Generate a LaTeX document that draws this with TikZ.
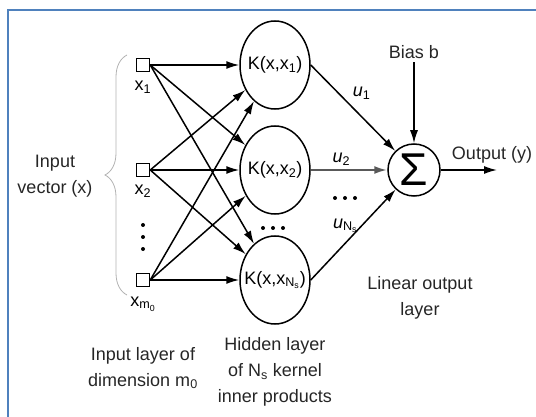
\documentclass[tikz,border=0pt]{standalone}
\usepackage{fontspec}
\setmainfont{Liberation Sans}
\usetikzlibrary{positioning,arrows.meta,shapes.geometric,decorations.pathreplacing}
\definecolor{framecol}{RGB}{79,129,189}

\tikzset{
  inp/.style={draw,rectangle,minimum size=13pt,inner sep=0pt,line width=1.5pt},
  kern/.style={draw,ellipse,minimum width=70pt,minimum height=88pt,inner sep=0pt,line width=1.5pt},
  sumnode/.style={draw,circle,minimum size=52pt,inner sep=0pt,line width=1.5pt},
  lbl/.style={align=center,text=black!85,font=\fontsize{18}{26}\selectfont},
  wire/.style={-{Latex[length=13pt,width=8pt]},line width=1.5pt},
}

\begin{document}
\begin{tikzpicture}[x=1pt,y=-1pt,on grid,font=\fontsize{18}{24}\selectfont]
    \useasboundingbox (0,0) rectangle (536,417);
    \draw[framecol,line width=2pt] (8,417) -- (8,10) -- (536,10);

    % input layer
    \node[inp] (x1) at (143,65) {};
    \node[inp] (x2) [below=105pt of x1] {};
    \node[inp] (xm) [below=110pt of x2] {};
    \node (lx1) [below=22pt of x1] {x\textsubscript{1}};
    \node (lx2) [below=21pt of x2] {x\textsubscript{2}};
    \node (lxm) [below=24pt of xm] {x\textsubscript{m\textsubscript{0}}};
    \foreach \k in {225,237,249} \fill (143,\k) circle (2pt);

    % hidden layer
    \node[kern] (h1) [right=132pt of x1] {\makebox[0pt]{K(x,x\textsubscript{1})}};
    \node[kern] (h2) [right=132pt of x2] {\makebox[0pt]{K(x,x\textsubscript{2})}};
    \node[kern] (h3) [right=132pt of xm] {\makebox[0pt]{K(x,x\textsubscript{N\textsubscript{s}})}};
    \foreach \k in {263,273,283} \fill (\k,228) circle (2pt);

    % output
    \node[sumnode] (sum) [right=139pt of h2] {\fontsize{46}{46}\selectfont Σ};
    \node[lbl] (bias) [above=118pt of sum] {Bias b};
    \coordinate[right=83pt of sum] (yout);
    \node[lbl] (outlbl) at (492,155) {Output (y)};
    \foreach \k in {335,345,355} \fill (\k,198) circle (2pt);

    \foreach \i in {x1,x2,xm}
        \foreach \j in {h1,h2,h3}
            \draw[wire] (\i.east) -- (\j);

    \draw[wire] (h1.east) -- node[pos=0.45,above right] {\textit{u}\textsubscript{1}} (sum);
    \draw[wire,black!65,line width=2.2pt] (h2) -- node[pos=0.4,above,text=black] {\textit{u}\textsubscript{2}} (sum);
    \draw[wire] (h3.east) -- node[pos=0.6,left] {\textit{u}\textsubscript{N\textsubscript{s}}} (sum);
    \draw[wire] (bias) -- (sum);
    \draw[wire] (sum) -- (yout);

    % brace and layer texts
    \draw[gray!60,line width=0.8pt,decorate,decoration={brace,amplitude=22pt}] (127,295) -- (127,55);
    \node[lbl] (invec) at (55,176) {Input\\vector (x)};
    \node[lbl] (inlayer) [below=88pt of xm] {Input layer of\\dimension m\textsubscript{0}};
    \node[lbl] (hidlayer) [below=92pt of h3] {Hidden layer\\of N\textsubscript{s} kernel\\inner products};
    \node[lbl] (outlayer) at (420,298) {Linear output\\layer};
\end{tikzpicture}
\end{document}
